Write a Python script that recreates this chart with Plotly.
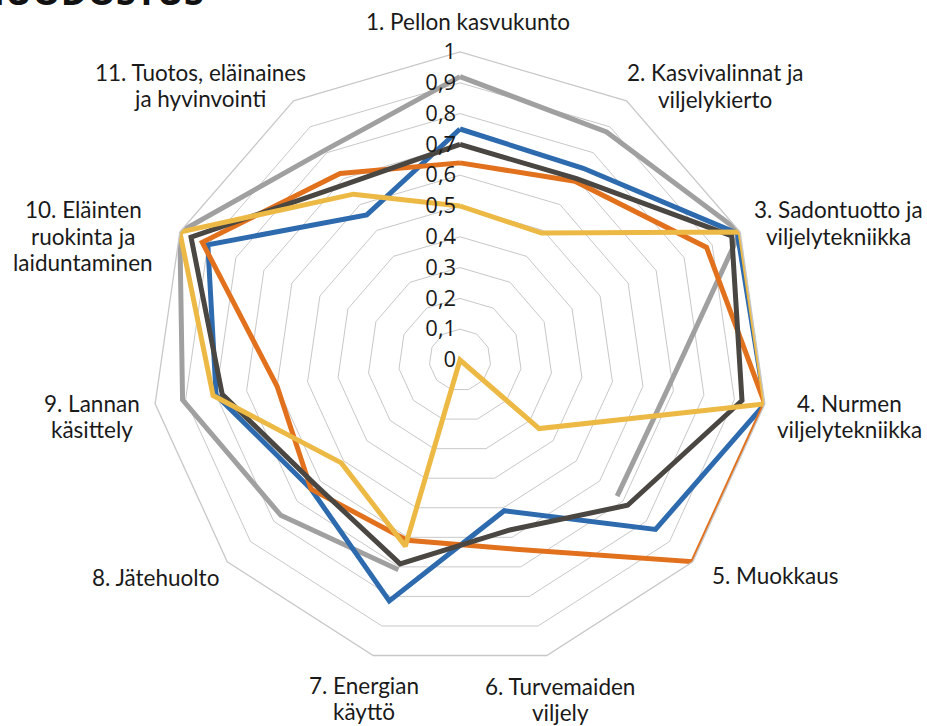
import plotly.graph_objects as go

W, H = 927, 726

categories = [
    "1. Pellon kasvukunto",
    "2. Kasvivalinnat ja viljelykierto",
    "3. Sadontuotto ja viljelytekniikka",
    "4. Nurmen viljelytekniikka",
    "5. Muokkaus",
    "6. Turvemaiden viljely",
    "7. Energian käyttö",
    "8. Jätehuolto",
    "9. Lannan käsittely",
    "10. Eläinten ruokinta ja laiduntaminen",
    "11. Tuotos, eläinaines ja hyvinvointi",
]

# displayed (wrapped) category labels
category_labels = [
    "1. Pellon kasvukunto",
    "2. Kasvivalinnat ja<br>viljelykierto",
    "3. Sadontuotto ja<br>viljelytekniikka",
    "4. Nurmen<br>viljelytekniikka",
    "5. Muokkaus",
    "6. Turvemaiden<br>viljely",
    "7. Energian<br>käyttö",
    "8. Jätehuolto",
    "9. Lannan<br>käsittely",
    "10. Eläinten<br>ruokinta ja<br>laiduntaminen",
    "11. Tuotos, eläinaines<br>ja hyvinvointi",
]

series_gray = [0.92, 0.88, 1.0, 0.68, 0.675, None, 0.71, 0.77, 0.91, 1.0, 0.81]
series_blue = [0.75, 0.74, 0.99, 1.0, 0.84, 0.51, 0.815, 0.64, 0.80, 0.90, 0.56]
series_orange = [0.64, 0.69, 0.88, 1.0, 1.0, 0.64, 0.61, 0.64, 0.60, 0.92, 0.72]
series_dark = [0.70, 0.70, 0.97, 0.925, 0.72, 0.575, 0.69, 0.62, 0.78, 0.96, 0.68]
series_yellow = [0.50, 0.49, 1.0, 1.0, 0.34, 0.0, 0.63, 0.51, 0.81, 1.0, 0.64]

radial_ticks = [0, 0.1, 0.2, 0.3, 0.4, 0.5, 0.6, 0.7, 0.8, 0.9, 1]

series = [
    (series_gray, "#A0A0A0"),
    (series_blue, "#2E6BAE"),
    (series_orange, "#E2711D"),
    (series_dark, "#4A4642"),
    (series_yellow, "#EDB945"),
]

fig = go.Figure()
for vals, col in series:
    fig.add_trace(go.Scatterpolar(
        r=vals + [vals[0]],
        theta=categories + [categories[0]],
        mode="lines",
        line=dict(color=col, width=5),
        connectgaps=False,
        showlegend=False,
        hoverinfo="skip",
    ))

# polar placement: centre (460,360) px, radius 308 px
cx, cy, R = 460, 360, 308
dom_x = [(cx - R) / W, (cx + R) / W]
dom_y = [(H - cy - R) / H, (H - cy + R) / H]

grid_col = "#C8C8C8"
fig.update_layout(
    width=W, height=H,
    margin=dict(l=0, r=0, t=0, b=0),
    paper_bgcolor="white",
    plot_bgcolor="white",
    separators=", ",
    polar=dict(
        domain=dict(x=dom_x, y=dom_y),
        bgcolor="white",
        gridshape="linear",
        radialaxis=dict(
            range=[0, 1],
            tickvals=radial_ticks,
            angle=90,
            tickangle=90,
            side="counterclockwise",
            showline=False,
            ticks="",
            gridcolor=grid_col,
            gridwidth=1.3,
            tickfont=dict(family="Open Sans", size=22, color="#1a1a1a"),
        ),
        angularaxis=dict(
            direction="clockwise",
            rotation=90,
            showticklabels=False,
            ticks="",
            showgrid=False,
            showline=True,
            linecolor=grid_col,
            linewidth=1.3,
        ),
    ),
)

# (centre x, centre y of first line, line gap) in pixels
label_pos = [
    (468, 22, 26.5), (715, 73, 26.5), (838, 210, 26.5), (849, 403, 26.5),
    (775, 575, 26.5), (560, 686, 26.5), (364, 685, 26.5), (155, 577, 26.5),
    (92, 403, 26.5), (83, 210, 26.5), (200, 72, 26.5),
]
for txt, (px, py, gap) in zip(category_labels, label_pos):
    for k, line in enumerate(txt.split("<br>")):
        fig.add_annotation(
            text=line, x=px / W, y=1 - (py + k * gap) / H,
            xref="paper", yref="paper",
            xanchor="center", yanchor="middle", showarrow=False, align="center",
            font=dict(family="Lato", size=22.5, color="#1a1a1a"),
        )

fig.add_annotation(
    text="<b>MUODOSTUS</b>", x=206 / W, y=1 - (-8) / H, xref="paper", yref="paper",
    xanchor="right", yanchor="middle", showarrow=False,
    font=dict(family="Open Sans", size=36, color="#111111"),
)

fig.write_html(
    "out.html",
    config={"displayModeBar": False},
    post_script="document.body.style.margin='0px';",
)
